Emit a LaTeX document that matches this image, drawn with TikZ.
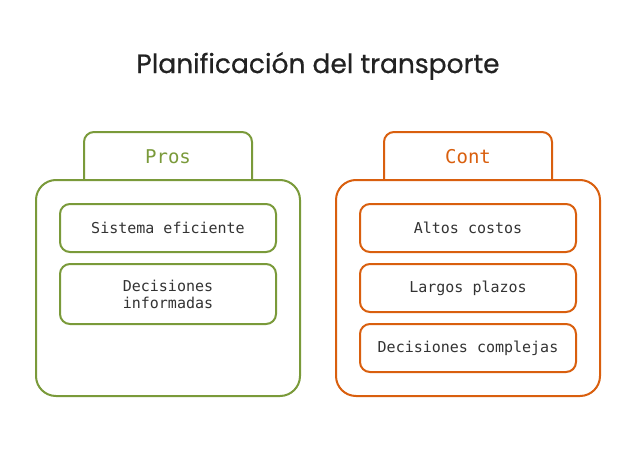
\documentclass[tikz,border=0pt]{standalone}
\usepackage{fontspec}
\setmonofont{DejaVu Sans Mono}
\newfontfamily\titlefont[FakeBold=0.6]{Poppins}
\usepackage{tikz}
\usetikzlibrary{positioning}

\definecolor{prosgreen}{HTML}{7A9A3A}
\definecolor{contorange}{HTML}{D95F0E}
\definecolor{textgrey}{HTML}{333333}
\definecolor{titlegrey}{HTML}{222222}

\begin{document}
\begin{tikzpicture}[x=1pt, y=-1pt, line width=2pt,
    panel/.style={draw, rounded corners=20pt, fill=white, minimum width=264pt, minimum height=216pt},
    tab/.style={draw, rounded corners=10pt, fill=white, minimum width=168pt, minimum height=68pt},
    tabtext/.style={font=\ttfamily\fontsize{19}{22}\selectfont},
    item/.style={draw, rounded corners=10pt, fill=white, minimum width=216pt, minimum height=48pt,
        text=textgrey, align=center, font=\ttfamily\fontsize{15}{17}\selectfont}]
    \useasboundingbox (0,0) rectangle (636,468);

    \node[font=\titlefont\fontsize{26.5}{30}\selectfont, text=titlegrey] (title) at (318,66) {Planificación del transporte};

    % pros
    \node[tab, draw=prosgreen] (prostab) at (168,166) {};
    \node[panel, draw=prosgreen] (prospanel) at (168,288) {};
    \node[tabtext, text=prosgreen] (prostitle) at (168,157) {Pros};
    \node[item, draw=prosgreen] (pros1) at (168,228) {Sistema eficiente};
    \node[item, draw=prosgreen, minimum height=60pt] (pros2) at (168,294) {Decisiones\\informadas};

    % cont
    \node[tab, draw=contorange] (conttab) at (468,166) {};
    \node[panel, draw=contorange] (contpanel) at (468,288) {};
    \node[tabtext, text=contorange] (conttitle) at (468,157) {Cont};
    \node[item, draw=contorange] (cont1) at (468,228) {Altos costos};
    \node[item, draw=contorange] (cont2) at (468,288) {Largos plazos};
    \node[item, draw=contorange] (cont3) at (468,348) {Decisiones complejas};
\end{tikzpicture}
\end{document}
